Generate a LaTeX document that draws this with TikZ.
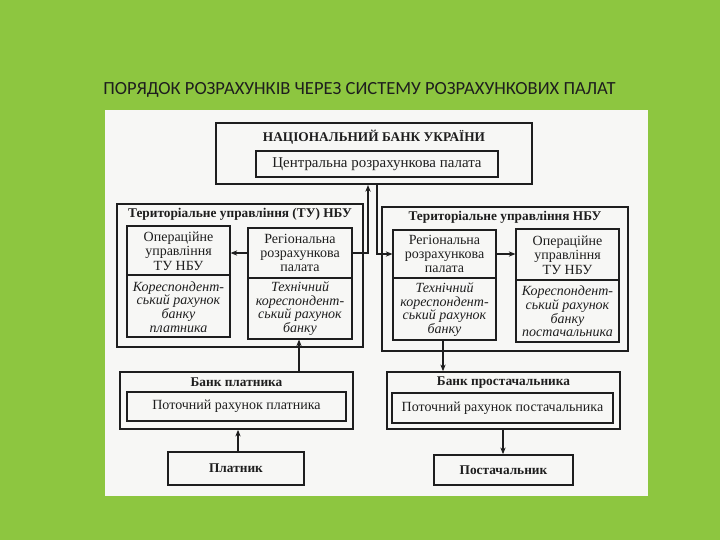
\documentclass[tikz,border=0pt]{standalone}
\usepackage{fontspec}
\setmainfont{Liberation Serif}
\newfontfamily\titlefont{Carlito}
\usetikzlibrary{arrows.meta,fit}
\definecolor{bggreen}{RGB}{141,198,64}
\definecolor{paper}{RGB}{247,247,245}
\definecolor{ink}{RGB}{30,30,30}
\tikzset{
  outerbox/.style={draw=ink, line width=1.3pt, inner sep=0pt},
  thickbox/.style={draw=ink, line width=1.6pt, inner sep=0pt},
  innerbox/.style={draw=ink, line width=0.9pt, inner sep=0pt},
  txt/.style={text=ink, align=center, inner sep=0pt, font=\fontsize{10.5}{10.8}\selectfont},
  itx/.style={text=ink, align=center, inner sep=0pt, font=\itshape\fontsize{10.5}{10.3}\selectfont},
  ttl/.style={text=ink, inner sep=0pt, font=\bfseries\fontsize{10}{12}\selectfont},
  arr/.style={draw=ink, line width=0.8pt, -{Stealth[length=5pt,width=4pt]}},
}
\begin{document}
\begin{tikzpicture}[x=0.75pt,y=-0.75pt]
\useasboundingbox (0,0) rectangle (720,540);
\fill[bggreen] (0,0) rectangle (720,540);
\fill[paper] (105,110) rectangle (648,496);

% title
\node[anchor=base west, inner sep=0pt, text=ink, font=\titlefont\fontsize{13.9}{16}\selectfont] (title) at (103,94) {ПОРЯДОК РОЗРАХУНКІВ ЧЕРЕЗ СИСТЕМУ РОЗРАХУНКОВИХ ПАЛАТ};

% NBU
\node[thickbox, fit={(216,123) (532,184)}] (nbu) {};
\node[ttl] (nbut) at (374,137) {НАЦІОНАЛЬНИЙ БАНК УКРАЇНИ};
\node[innerbox, fit={(256,151) (498,177)}] (cpal) {};
\node[txt, font=\fontsize{11.2}{12}\selectfont] (cpalt) at (cpal.center) {Центральна розрахункова палата};

% left TU
\node[outerbox, fit={(117,204) (363,347)}] (tul) {};
\node[ttl] (tult) at (240,214) {Територіальне управління (ТУ) НБУ};
\node[innerbox, fit={(127,226) (230,337)}] (opl) {};
\draw[innerbox] (opl.west |- 0,275) -- (opl.east |- 0,275);
\node[txt] (oplu) at (178.5,251) {Операційне\\управління\\ТУ НБУ};
\node[itx] (opll) at (178.5,307) {Кореспондент-\\ський рахунок\\банку\\платника};
\node[innerbox, fit={(248,228) (352,339)}] (rpl) {};
\draw[innerbox] (rpl.west |- 0,278) -- (rpl.east |- 0,278);
\node[txt] (rplu) at (300,253) {Регіональна\\розрахункова\\палата};
\node[itx] (rpll) at (300,308.5) {Технічний\\кореспондент-\\ський рахунок\\банку};

% right TU
\node[outerbox, fit={(382,207) (628,351)}] (tur) {};
\node[ttl] (turt) at (505,217) {Територіальне управління НБУ};
\node[innerbox, fit={(393,230) (496,340)}] (rpr) {};
\draw[innerbox] (rpr.west |- 0,278) -- (rpr.east |- 0,278);
\node[txt] (rpru) at (444.5,254) {Регіональна\\розрахункова\\палата};
\node[itx] (rprl) at (444.5,309.5) {Технічний\\кореспондент-\\ський рахунок\\банку};
\node[innerbox, fit={(516,229) (619,342)}] (opr) {};
\draw[innerbox] (opr.west |- 0,280) -- (opr.east |- 0,280);
\node[txt] (opru) at (567.5,255) {Операційне\\управління\\ТУ НБУ};
\node[itx] (oprl) at (567.5,311.5) {Кореспондент-\\ський рахунок\\банку\\постачальника};

% banks
\node[outerbox, fit={(120,372) (353,429)}] (bankp) {};
\node[ttl] (bankpt) at (236.5,382) {Банк платника};
\node[innerbox, fit={(127,392) (346,421)}] (accp) {};
\node[txt] (accpt) at (accp.center) {Поточний рахунок платника};
\node[outerbox, fit={(387,372) (620,429)}] (bankr) {};
\node[ttl] (bankrt) at (503.5,383) {Банк простачальника};
\node[innerbox, fit={(392,393) (613,423)}] (accr) {};
\node[txt] (accrt) at (accr.center) {Поточний рахунок постачальника};

% clients
\node[outerbox, fit={(168,452) (304,485)}] (platnyk) {};
\node[ttl] (platnykt) at (platnyk.center) {Платник};
\node[outerbox, fit={(434,455) (573,485)}] (postach) {};
\node[ttl] (postacht) at (postach.center) {Постачальник};

% connectors
\draw[arr] (rpl.west |- 0,253) -- (opl.east |- 0,253);
\draw[arr] (rpl.east |- 0,253) -| (nbu.south -| 368,0);
\draw[arr] (nbu.south -| 377,0) |- (rpr.west |- 0,254);
\draw[arr] (rpr.east |- 0,254) -- (opr.west |- 0,254);
\draw[arr] (bankp.north -| 299,0) -- (rpl.south -| 299,0);
\draw[arr] (platnyk.north -| 238,0) -- (bankp.south -| 238,0);
\draw[arr] (rpr.south -| 443,0) -- (bankr.north -| 443,0);
\draw[arr] (bankr.south -| 503,0) -- (postach.north -| 503,0);
\end{tikzpicture}
\end{document}
